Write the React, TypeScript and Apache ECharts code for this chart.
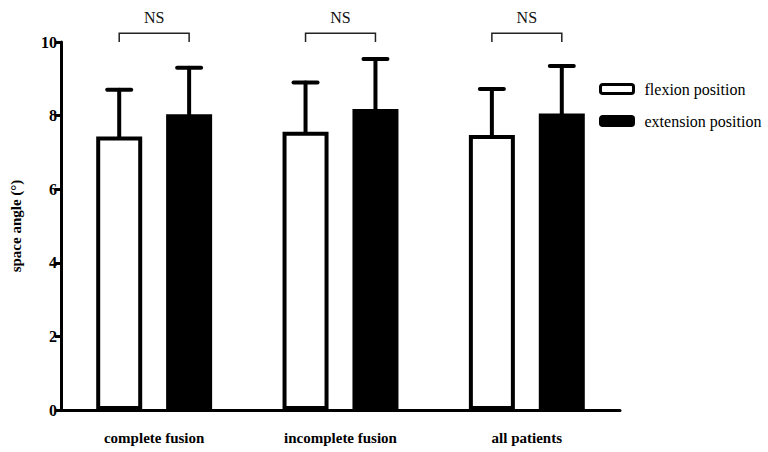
import React, { useEffect, useRef } from "react";
import * as echarts from "echarts";

const categories = ["complete fusion", "incomplete fusion", "all patients"];
const flexionMean = [7.43, 7.56, 7.47];
const flexionUpper = [8.7, 8.9, 8.72];
const extensionMean = [8.04, 8.18, 8.06];
const extensionUpper = [9.3, 9.54, 9.35];
const bracketLevel = [10.24, 10.24, 10.24];
const bracketBase = [10.0, 10.0, 10.0];
const bracketLabel = ["NS", "NS", "NS"];
const yTicks = { min: 0, max: 10, interval: 2 };

const FONT = "Liberation Serif";
const BAR_W = 46;
const BAR_GAP = 0.52;
const OFFSET = (BAR_W * (1 + BAR_GAP)) / 2;

export default function App() {
  const ref = useRef<HTMLDivElement>(null);
  useEffect(() => {
    if (!ref.current) return;
    const chart = echarts.init(ref.current, null, { renderer: "svg" });

    const errRender = (sign: number) => (params: any, api: any) => {
      const i = api.value(0);
      const m = api.coord([i, api.value(1)]);
      const t = api.coord([i, api.value(2)]);
      const x = m[0] + sign * OFFSET;
      const style = { stroke: "#000", lineWidth: 4, lineCap: "round" };
      return {
        type: "group",
        children: [
          { type: "line", shape: { x1: x, y1: m[1], x2: x, y2: t[1] }, style },
          { type: "line", shape: { x1: x - 12, y1: t[1], x2: x + 12, y2: t[1] }, style },
        ],
      };
    };

    const bracketRender = (params: any, api: any) => {
      const i = api.value(0);
      const top = api.coord([i, api.value(1)]);
      const base = api.coord([i, api.value(2)]);
      const xl = top[0] - OFFSET;
      const xr = top[0] + OFFSET;
      const style = { stroke: "#222", lineWidth: 1.5, fill: "none" };
      return {
        type: "group",
        children: [
          {
            type: "polyline",
            shape: { points: [[xl, base[1]], [xl, top[1]], [xr, top[1]], [xr, base[1]]] },
            style,
          },
          {
            type: "text",
            style: {
              text: bracketLabel[params.dataIndex],
              x: top[0],
              y: top[1] - 8,
              textAlign: "center",
              textVerticalAlign: "bottom",
              fontFamily: FONT,
              fontSize: 16,
              fill: "#111",
            },
          },
        ],
      };
    };

    chart.setOption({
      animation: false,
      backgroundColor: "#fff",
      textStyle: { fontFamily: FONT },
      grid: { left: 58, right: 148, top: 42, bottom: 42 },
      legend: {
        orient: "vertical",
        left: 594,
        top: 76,
        itemWidth: 33,
        itemHeight: 9,
        itemGap: 16,
        icon: "roundRect",
        textStyle: { fontFamily: FONT, fontSize: 16, color: "#000", padding: [0, 0, 0, 6] },
        data: [
          { name: "flexion position", itemStyle: { color: "#fff", borderColor: "#000", borderWidth: 3 } },
          { name: "extension position", itemStyle: { color: "#000", borderColor: "#000", borderWidth: 3 } },
        ],
      },
      xAxis: {
        type: "category",
        data: categories,
        axisLine: { lineStyle: { color: "#000", width: 3 } },
        axisTick: { alignWithLabel: true, length: 6, lineStyle: { width: 3, color: "#000" } },
        axisLabel: {
          fontFamily: FONT,
          fontWeight: "bold",
          fontSize: 15,
          color: "#000",
          margin: 20,
        },
      },
      yAxis: {
        type: "value",
        min: yTicks.min,
        max: yTicks.max,
        interval: yTicks.interval,
        name: "space angle (°)",
        nameLocation: "middle",
        nameGap: 38,
        nameTextStyle: { fontFamily: FONT, fontWeight: "bold", fontSize: 15, color: "#000" },
        axisLine: { show: true, lineStyle: { color: "#000", width: 3 } },
        axisTick: { show: true, length: 6, lineStyle: { width: 3, color: "#000" } },
        axisLabel: { fontFamily: FONT, fontWeight: "bold", fontSize: 16, color: "#000", margin: 4 },
        splitLine: { show: false },
      },
      series: [
        {
          name: "flexion position",
          type: "bar",
          data: flexionMean,
          barWidth: BAR_W,
          barGap: BAR_GAP * 100 + "%",
          itemStyle: { color: "#fff", borderColor: "#000", borderWidth: 4 },
          z: 2,
        },
        {
          name: "extension position",
          type: "bar",
          data: extensionMean,
          barWidth: BAR_W,
          itemStyle: { color: "#000", borderColor: "#000", borderWidth: 2 },
          z: 2,
        },
        {
          type: "custom",
          renderItem: errRender(-1),
          data: flexionMean.map((v, i) => [i, v, flexionUpper[i]]),
          z: 3,
          clip: false,
        },
        {
          type: "custom",
          renderItem: errRender(1),
          data: extensionMean.map((v, i) => [i, v, extensionUpper[i]]),
          z: 3,
          clip: false,
        },
        {
          type: "custom",
          renderItem: bracketRender,
          data: bracketLevel.map((v, i) => [i, v, bracketBase[i]]),
          z: 3,
          clip: false,
        },
      ],
    });
    return () => chart.dispose();
  }, []);
  return <div ref={ref} style={{ width: 768, height: 452, position: "absolute", left: 0, top: 0 }} />;
}
